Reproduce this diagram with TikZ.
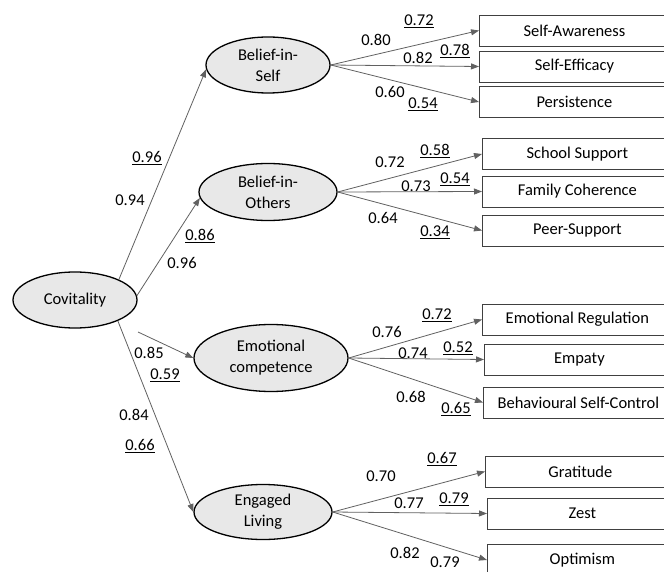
\documentclass[tikz,border=0pt]{standalone}
\usepackage{fontspec}
\setmainfont{Carlito}
\usetikzlibrary{arrows.meta,shapes.geometric}
\begin{document}
\begin{tikzpicture}[x=1pt,y=-1pt,
  txt/.style={font=\fontsize{16.5}{21}\selectfont},
  lat/.style={txt,ellipse,draw=black,line width=1.3pt,fill=black!9,inner sep=0pt,align=center,minimum width=124pt,minimum height=56pt},
  ind/.style={txt,draw=black!75,line width=0.8pt,inner sep=0pt,minimum width=190pt,minimum height=31pt,anchor=west},
  conn/.style={draw=black!62,line width=0.8pt,-{Triangle[length=8pt,width=6pt]}},
  lab/.style={txt,inner sep=0pt}]
\useasboundingbox (0,0) rectangle (664,572);
\clip (0,0) rectangle (664,572);
\fill[white] (0,0) rectangle (664,572);

% latent variables
\node[lat] (cov) at (75,300) {Covitality};
\node[lat] (bs) at (268,65) {Belief-in-\\Self};
\node[lat,minimum width=138pt,minimum height=57pt] (bo) at (268,192) {Belief-in-\\Others};
\node[lat,minimum width=154pt,minimum height=67pt] (ec) at (271,358) {Emotional\\competence};
\node[lat,minimum width=138pt,minimum height=55pt] (el) at (263,512) {Engaged\\Living};

% indicators
\node[ind] (sa) at (479,30.5) {Self-Awareness};
\node[ind] (se) at (479,66.5) {Self-Efficacy};
\node[ind] (pe) at (479,102) {Persistence};
\node[ind] (ss) at (482,154) {School Support};
\node[ind] (fc) at (482,191.5) {Family Coherence};
\node[ind] (ps) at (482,230.5) {Peer-Support};
\node[ind] (er) at (482,319.5) {Emotional Regulation};
\node[ind] (em) at (484,359.5) {Empaty};
\node[ind] (bsc) at (483,402.5) {Behavioural Self-Control};
\node[ind] (gr) at (485,471.5) {Gratitude};
\node[ind] (ze) at (487,513.5) {Zest};
\node[ind] (op) at (487,560) {Optimism};

% second-order paths
\coordinate (ecs) at (138,332);
\draw[conn] (cov.25) -- (bs.184);
\draw[conn] (cov.4) -- (bo.185);
\draw[conn] (ecs) -- (ec.west);
\draw[conn] (cov.-26) -- (el.west);

% first-order paths
\draw[conn] (bs.east) -- (sa.west);
\draw[conn] (bs.east) -- (se.west);
\draw[conn] (bs.east) -- (pe.west);
\draw[conn] (bo.east) -- (ss.west);
\draw[conn] (bo.east) -- (fc.west);
\draw[conn] (bo.east) -- (ps.west);
\draw[conn] (ec.east) -- (er.west);
\draw[conn] (ec.east) -- (em.west);
\draw[conn] (ec.east) -- (bsc.west);
\draw[conn] (el.east) -- (gr.west);
\draw[conn] (el.east) -- (ze.west);
\draw[conn] (el.east) -- (op.west);

% labels: second order
\node[lab] (l1) at (147,158) {\underline{0.96}};
\node[lab] (l2) at (130,200) {0.94};
\node[lab] (l3) at (200,236) {\underline{0.86}};
\node[lab] (l4) at (182,263) {0.96};
\node[lab] (l5) at (149,353) {0.85};
\node[lab] (l6) at (165,375) {\underline{0.59}};
\node[lab] (l7) at (134,415) {0.84};
\node[lab] (l8) at (140,446) {\underline{0.66}};

% labels: belief in self
\node[lab] (m1) at (419,21) {\underline{0.72}};
\node[lab] (m2) at (376,40) {0.80};
\node[lab] (m3) at (418,58) {0.82};
\node[lab] (m4) at (455,51) {\underline{0.78}};
\node[lab] (m5) at (390,92) {0.60};
\node[lab] (m6) at (423,104) {\underline{0.54}};

% labels: belief in others
\node[lab] (n1) at (435,151) {\underline{0.58}};
\node[lab] (n2) at (390,162) {0.72};
\node[lab] (n3) at (416,186) {0.73};
\node[lab] (n4) at (455,179) {\underline{0.54}};
\node[lab] (n5) at (383,218) {0.64};
\node[lab] (n6) at (435,232) {\underline{0.34}};

% labels: emotional competence
\node[lab] (o1) at (437,315) {\underline{0.72}};
\node[lab] (o2) at (387,332) {0.76};
\node[lab] (o3) at (413,353) {0.74};
\node[lab] (o4) at (458,348) {\underline{0.52}};
\node[lab] (o5) at (411,397) {0.68};
\node[lab] (o6) at (456,409) {\underline{0.65}};

% labels: engaged living
\node[lab] (p1) at (442,459) {\underline{0.67}};
\node[lab] (p2) at (381,476) {0.70};
\node[lab] (p3) at (409,503) {0.77};
\node[lab] (p4) at (454,499) {\underline{0.79}};
\node[lab] (p5) at (405,553) {0.82};
\node[lab,anchor=base] (p6) at (445,567) {0.79};
\end{tikzpicture}
\end{document}
